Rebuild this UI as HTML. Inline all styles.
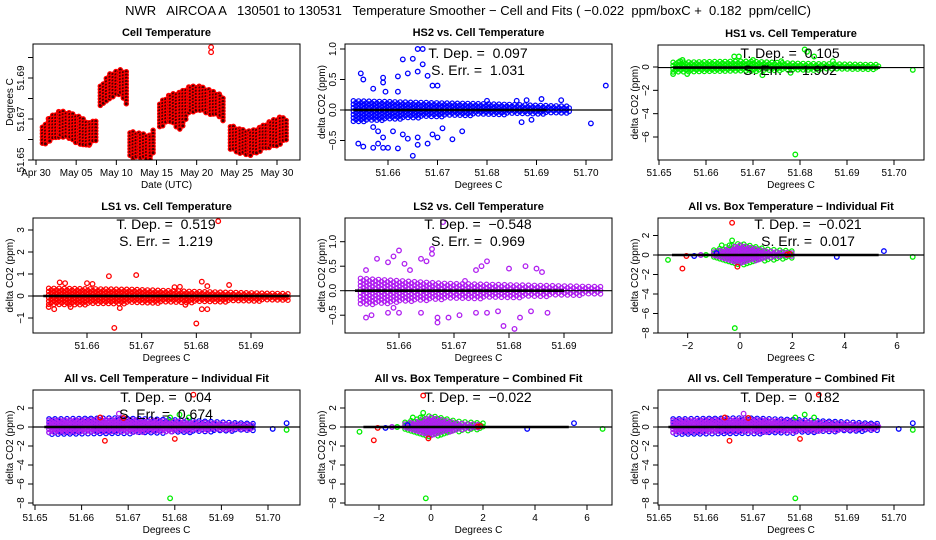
<!DOCTYPE html>
<html><head><meta charset="utf-8">
<style>
html,body{margin:0;padding:0;background:#fff;}
svg{display:block;font-family:"Liberation Sans",sans-serif;}
svg text{white-space:pre;}
</style></head>
<body>
<svg id="chart" width="936" height="540" viewBox="0 0 936 540" xmlns="http://www.w3.org/2000/svg" xml:space="preserve">
<rect x="0" y="0" width="936" height="540" fill="#fff"/>
<text x="468" y="15" text-anchor="middle" font-size="13">NWR   AIRCOA A   130501 to 130531   Temperature Smoother − Cell and Fits ( −0.022  ppm/boxC +  0.182  ppm/cellC)</text>
</svg>
<script>
// ---------- Data ----------
const tsDay = [0.8,1.7,3.0,4.2,5.5,6.7,7.6, 8.0,9.2,10.5,11.3, 11.7,13.0,14.2,14.8, 15.4,16.7,17.9,19.2,20.4,21.7,22.9,23.5, 24.2,25.4,26.7,27.9,29.2,30.4,31.2];
const tsLo  = [51.657,51.659,51.661,51.660,51.657,51.657,51.660, 51.676,51.680,51.682,51.676, 51.651,51.651,51.650,51.655, 51.666,51.668,51.664,51.673,51.674,51.672,51.671,51.668, 51.655,51.653,51.652,51.654,51.656,51.657,51.660];
const tsHi  = [51.666,51.671,51.674,51.673,51.671,51.668,51.670, 51.686,51.692,51.694,51.693, 51.664,51.663,51.662,51.666, 51.678,51.682,51.683,51.686,51.686,51.684,51.682,51.679, 51.667,51.665,51.664,51.666,51.669,51.671,51.670];
const tsSeg = [0,0,0,0,0,0,0, 1,1,1,1, 2,2,2,2, 3,3,3,3,3,3,3,3, 4,4,4,4,4,4,4];
const tsSpikeDay = [21.8];
const tsSpikeVal = [51.705];

const cellBandX = [51.653,51.668,51.680,51.697];
const hs2Lo = [-0.2,-0.12,-0.08,-0.06];
const hs2Hi = [0.15,0.12,0.1,0.06];
const hs2X = [51.6545,51.655,51.657,51.659,51.659,51.662,51.663,51.665,51.666,51.667,51.664,51.666,51.667,51.668,51.669,51.670,51.654,51.655,51.657,51.658,51.659,51.660,51.662,51.665,51.666,51.668,51.659,51.663,51.664,51.666,51.669,51.670,51.673,51.675,51.704,51.701,51.657,51.661,51.687,51.689,51.671,51.680,51.686,51.688,51.691,51.695,51.6595,51.662,51.658];
const hs2Y = [0.6,0.5,0.35,0.53,0.45,0.55,0.83,0.84,1.0,1.0,0.6,0.63,0.75,0.56,0.4,0.4,-0.55,-0.6,-0.62,-0.55,-0.62,-0.62,-0.63,-0.75,-0.57,-0.55,-0.45,-0.4,-0.47,-0.45,-0.4,-0.45,-0.48,-0.35,0.4,-0.22,-0.28,-0.35,-0.2,-0.16,-0.3,0.15,0.15,0.16,0.18,0.16,0.3,0.3,-0.35];
const hs1Lo = [-0.5,-0.4,-0.3,-0.2];
const hs1Hi = [0.4,0.5,0.3,0.2];
const hs1X = [51.655,51.6545,51.653,51.656,51.666,51.667,51.672,51.676,51.681,51.6815,51.683,51.687,51.679,51.704,51.670,51.678];
const hs1Y = [0.6,0.5,-0.6,-0.6,0.9,0.9,-0.7,0.5,1.5,1.3,0.9,0.5,-7.5,-0.25,0.6,-0.5];
const ls1Lo = [-0.45,-0.35,-0.3,-0.2];
const ls1Hi = [0.35,0.3,0.2,0.1];
const ls1X = [51.684,51.665,51.680,51.669,51.681,51.686,51.655,51.656,51.653,51.654,51.657,51.664,51.682,51.677,51.676,51.682,51.681,51.678,51.660,51.661,51.666];
const ls1Y = [3.4,-1.45,-1.25,0.95,0.65,0.5,0.62,0.58,-0.5,-0.6,-0.5,0.9,0.45,0.42,0.4,-0.6,-0.6,-0.4,0.58,0.55,-0.55];
const ls2Lo = [-0.3,-0.18,-0.15,-0.08];
const ls2Hi = [0.25,0.15,0.12,0.08];
const ls2X = [51.668,51.654,51.656,51.658,51.659,51.660,51.661,51.664,51.665,51.666,51.666,51.674,51.675,51.676,51.680,51.683,51.685,51.686,51.654,51.655,51.658,51.659,51.660,51.664,51.667,51.667,51.669,51.671,51.674,51.676,51.678,51.679,51.681,51.682,51.684,51.687,51.662,51.672];
const ls2Y = [1.4,0.42,0.65,0.58,0.7,0.82,0.55,0.65,0.6,0.75,0.85,0.42,0.5,0.6,0.45,0.5,0.45,0.38,-0.55,-0.5,-0.45,-0.35,-0.45,-0.45,-0.55,-0.65,-0.55,-0.5,-0.45,-0.45,-0.42,-0.72,-0.78,-0.55,-0.42,-0.45,0.42,0.2];
const boxBandX = [-1.0,0.0,1.0,2.0];
const boxLo = [-0.3,-0.9,-0.4,-0.1];
const boxHi = [0.3,1.0,0.4,0.2];
const boxOutX = [-0.3,-2.2,-2.05,-0.1,1.8,1.9,-2.75,-0.7,-0.3,-0.2,6.6,-0.4,5.5,3.7,-1.75,-0.9,-1.3,-1.5];
const boxOutY = [3.3,-1.4,-0.1,-1.2,0.05,0.1,-0.5,1.0,1.5,-7.5,-0.2,1.0,0.4,-0.2,-0.1,0.2,0.0,0.0];
const boxOutC = ["r","r","r","r","r","r","g","g","g","g","g","g","b","b","b","b","g","p"];
const allLo = [-0.7,-0.6,-0.5,-0.25];
const allHi = [0.7,0.8,0.6,0.2];
const allOutX = [51.684,51.665,51.680,51.669,51.679,51.681,51.704,51.704,51.701,51.668,51.679,51.683,51.664];
const allOutY = [3.4,-1.45,-1.25,0.95,-7.5,1.3,-0.3,0.4,-0.2,1.4,1.0,1.0,1.0];
const allOutC = ["r","r","r","r","g","g","g","b","b","p","g","g","r"];

// ---------- Rendering ----------
const svg = document.getElementById('chart');
const NS = 'http://www.w3.org/2000/svg';
const COL = {r:'#ff0000', g:'#00ee00', b:'#0000ff', p:'#b020f0'};
function mk(tag, attrs, parent){
  const e = document.createElementNS(NS, tag);
  for (const k in attrs) e.setAttribute(k, attrs[k]);
  (parent||svg).appendChild(e);
  return e;
}
function lin(v0,p0,v1,p1){ return v => p0 + (v - v0) * (p1 - p0) / (v1 - v0); }

function panel(cfg){
  const g = mk('g', {});
  
  
  const [L,T,R,B] = cfg.box;
  const sx = lin(cfg.xm[0],cfg.xm[1],cfg.xm[2],cfg.xm[3]);
  const sy = lin(cfg.ym[0],cfg.ym[1],cfg.ym[2],cfg.ym[3]);
  const clip = 'c' + cfg.name;
  const cp = mk('clipPath', {id: clip}, g);
  mk('rect', {x:L, y:T, width:R-L, height:B-T}, cp);
  const plot = mk('g', {'clip-path': 'url(#' + clip + ')'}, g);
  
  
  const t = mk('text', {x:(L+R)/2, y:T-8, 'text-anchor':'middle', 'font-size':11, 'font-weight':'bold'}, g);
  
  
  t.textContent = cfg.title;
  const bx = mk('rect', {x:L, y:T, width:R-L, height:B-T, fill:'none', stroke:'#000', 'stroke-width':1}, g);
  
  
  const xa = mk('g', {}, g);
  
  
  const xp = cfg.xt.map(sx);
  mk('line', {x1:xp[0], x2:xp[xp.length-1], y1:B, y2:B, stroke:'#000'}, xa);
  cfg.xt.forEach((v,i) => {
    mk('line', {x1:xp[i], x2:xp[i], y1:B, y2:B+5, stroke:'#000'}, xa);
    if (cfg.xl[i] !== '') {
      const tx = mk('text', {x:xp[i], y:B+16, 'text-anchor':'middle', 'font-size':10}, xa);
      
      
      tx.textContent = cfg.xl[i];
    }
  });
  const xt = mk('text', {x:(L+R)/2, y:B+28, 'text-anchor':'middle', 'font-size':10}, g);
  
  
  xt.textContent = cfg.xtitle;
  const ya = mk('g', {}, g);
  
  
  const yp = cfg.yt.map(sy);
  mk('line', {x1:L, x2:L, y1:yp[0], y2:yp[yp.length-1], stroke:'#000'}, ya);
  cfg.yt.forEach((v,i) => {
    mk('line', {x1:L-5, x2:L, y1:yp[i], y2:yp[i], stroke:'#000'}, ya);
    if (cfg.yl[i] !== '') {
      const ty = mk('text', {x:L-9, y:yp[i], 'text-anchor':'middle', 'font-size':10, transform:'rotate(-90 ' + (L-9) + ' ' + yp[i] + ')'}, ya);
      
      
      ty.textContent = cfg.yl[i];
    }
  });
  const yx = L - 20, yy = (T+B)/2;
  const ytl = mk('text', {x:yx, y:yy, 'text-anchor':'middle', 'font-size':10, transform:'rotate(-90 ' + yx + ' ' + yy + ')'}, g);
  
  
  ytl.textContent = cfg.ytitle;
  return {g, plot, sx, sy, L, T, R, B};
}

function circ(parent, x, y, c, name){
  const e = mk('circle', {cx:x.toFixed(1), cy:y.toFixed(1), r:2.3, fill:'none', stroke:c, 'stroke-width':1.3}, parent);
  
  
  return e;
}
function cloud(P, bx, lo, hi, c, name, step, dy){
  const grp = mk('g', {}, P.plot);
  
  
  const x0 = P.sx(bx[0]), x1 = P.sx(bx[bx.length-1]);
  let k = 0;
  for (let x = x0; x <= x1; x += step) {
    let j = 0;
    while (j < bx.length-2 && P.sx(bx[j+1]) < x) j++;
    const a = P.sx(bx[j]), b = P.sx(bx[j+1]);
    const f = Math.max(0, Math.min(1, (x - a) / (b - a)));
    const l = lo[j] + (lo[j+1]-lo[j])*f, h = hi[j] + (hi[j+1]-hi[j])*f;
    const yTop = P.sy(h), yBot = P.sy(l);
    const y0 = Math.min(yTop,yBot), y1 = Math.max(yTop,yBot);
    const off = (k % 2) * dy / 2;
    for (let y = y0 + off; y <= y1; y += dy) {
      mk('circle', {cx:x.toFixed(1), cy:y.toFixed(1), r:2.2, fill:'none', stroke:c, 'stroke-width':1.2}, grp);
    }
    k++;
  }
}
function fitLines(P, yv, tx0, tx1){
  const l1 = mk('line', {x1:P.L, x2:P.R, y1:P.sy(yv), y2:P.sy(yv), stroke:'#000', 'stroke-width':1.2}, P.plot);
  
  
  const l2 = mk('line', {x1:P.sx(tx0), x2:P.sx(tx1), y1:P.sy(yv), y2:P.sy(yv), stroke:'#000', 'stroke-width':2.6}, P.plot);
  
  
}
function annot(P, cx, y, lines){
  lines.forEach((s,i) => {
    const t = mk('text', {x:cx, y:y + i*17, 'text-anchor':'middle', 'font-size':14}, P.g);
    
    
    t.textContent = s;
  });
}

const cellXT = [51.65,51.66,51.67,51.68,51.69,51.70];
const cellXL = ['51.65','51.66','51.67','51.68','51.69','51.70'];
const bigYT = [2,0,-2,-4,-6,-8];
const bigYL = ['2','0','−2','−4','−6','−8'];
const boxXT = [-2,0,2,4,6];
const boxXL = ['−2','0','2','4','6'];

(function(){
  const P = panel({name:'cell-temperature', title:'Cell Temperature', box:[33,44,300,160],
    xm:[0,36,30,277], ym:[51.65,160,51.69,78],
    xt:[0,5,10,15,20,25,30], xl:['Apr 30','May 05','May 10','May 15','May 20','May 25','May 30'],
    yt:[51.65,51.66,51.67,51.68,51.69,51.70], yl:['51.65','','51.67','','51.69',''],
    xtitle:'Date (UTC)', ytitle:'Degrees C'});
  const grp = mk('g', {}, P.plot);
  
  
  let k = 0;
  for (let i = 0; i < tsDay.length - 1; i++) {
    if (tsSeg[i] !== tsSeg[i+1]) continue;
    const xa = P.sx(tsDay[i]), xb = P.sx(tsDay[i+1]);
    for (let x = xa; x < xb + 0.01; x += 3) {
      const f = (x - xa) / (xb - xa);
      const lo = tsLo[i] + (tsLo[i+1]-tsLo[i])*f, hi = tsHi[i] + (tsHi[i+1]-tsHi[i])*f;
      const off = (k % 2) * 1.6; k++;
      for (let y = P.sy(hi) + off; y <= P.sy(lo); y += 3.2) {
        mk('circle', {cx:x.toFixed(1), cy:y.toFixed(1), r:2.1, fill:'#400', stroke:'#ff0000', 'stroke-width':1.3}, grp);
      }
    }
  }
  tsSpikeDay.forEach((d,i) => { circ(P.plot, P.sx(d), P.sy(tsSpikeVal[i]), '#ff0000', 'spike-point'); circ(P.plot, P.sx(d), P.sy(tsSpikeVal[i])+5, '#ff0000', 'spike-point'); });
})();

(function(){
  const P = panel({name:'hs2-panel', title:'HS2 vs. Cell Temperature', box:[345,44,612,160],
    xm:[51.66,388,51.70,586], ym:[0,110,1,49],
    xt:[51.66,51.67,51.68,51.69,51.70], xl:['51.66','51.67','51.68','51.69','51.70'],
    yt:[-0.5,0,0.5,1.0], yl:['−0.5','0.0','0.5','1.0'], xtitle:'Degrees C', ytitle:'delta CO2 (ppm)'});
  cloud(P, cellBandX, hs2Lo, hs2Hi, COL.b, 'hs2-cloud', 2.6, 3.4);
  hs2X.forEach((x,i) => circ(P.plot, P.sx(x), P.sy(hs2Y[i]), COL.b, 'hs2-point'));
  fitLines(P, 0, 51.653, 51.692);
  annot(P, 478, 58, ['T. Dep. =  0.097', 'S. Err. =  1.031']);
})();

(function(){
  const P = panel({name:'hs1-panel', title:'HS1 vs. Cell Temperature', box:[658,45,924,160],
    xm:[51.65,659,51.70,894], ym:[0,67,-6,137],
    xt:cellXT, xl:cellXL, yt:[0,-2,-4,-6], yl:['0','−2','−4','−6'], xtitle:'Degrees C', ytitle:'delta CO2 (ppm)'});
  cloud(P, cellBandX, hs1Lo, hs1Hi, COL.g, 'hs1-cloud', 2.6, 3.2);
  hs1X.forEach((x,i) => circ(P.plot, P.sx(x), P.sy(hs1Y[i]), COL.g, 'hs1-point'));
  fitLines(P, -0.05, 51.653, 51.697);
  annot(P, 790, 58, ['T. Dep. =  0.105', 'S. Err. =  1.902']);
})();

(function(){
  const P = panel({name:'ls1-panel', title:'LS1 vs. Cell Temperature', box:[33,218,300,333],
    xm:[51.66,87,51.69,251], ym:[0,296,3,230],
    xt:[51.66,51.67,51.68,51.69], xl:['51.66','51.67','51.68','51.69'],
    yt:[-1,0,1,2,3], yl:['−1','0','1','2','3'], xtitle:'Degrees C', ytitle:'delta CO2 (ppm)'});
  cloud(P, cellBandX, ls1Lo, ls1Hi, COL.r, 'ls1-cloud', 2.6, 3.2);
  ls1X.forEach((x,i) => circ(P.plot, P.sx(x), P.sy(ls1Y[i]), COL.r, 'ls1-point'));
  fitLines(P, 0, 51.652, 51.697);
  annot(P, 166, 229, ['T. Dep. =  0.519', 'S. Err. =  1.219']);
})();

(function(){
  const P = panel({name:'ls2-panel', title:'LS2 vs. Cell Temperature', box:[345,218,612,333],
    xm:[51.66,399,51.69,564], ym:[0,290.7,1,241.7],
    xt:[51.66,51.67,51.68,51.69], xl:['51.66','51.67','51.68','51.69'],
    yt:[-0.5,0,0.5,1.0], yl:['−0.5','0.0','0.5','1.0'], xtitle:'Degrees C', ytitle:'delta CO2 (ppm)'});
  cloud(P, cellBandX, ls2Lo, ls2Hi, COL.p, 'ls2-cloud', 3, 3.6);
  ls2X.forEach((x,i) => circ(P.plot, P.sx(x), P.sy(ls2Y[i]), COL.p, 'ls2-point'));
  fitLines(P, 0, 51.652, 51.690);
  annot(P, 478, 229, ['T. Dep. =  −0.548', 'S. Err. =  0.969']);
})();

function allBox(name, title, box, xm, ym, ann){
  const P = panel({name, title, box, xm, ym, xt:boxXT, xl:boxXL, yt:bigYT, yl:bigYL, xtitle:'Degrees C', ytitle:'delta CO2 (ppm)'});
  cloud(P, boxBandX, boxLo.map(v=>v-0.2), boxHi.map(v=>v+0.2), COL.g, name+'-cloud-green', 3, 3.4);
  cloud(P, boxBandX, boxLo, boxHi, COL.p, name+'-cloud', 2.6, 3);
  boxOutX.forEach((x,i) => circ(P.plot, P.sx(x), P.sy(boxOutY[i]), COL[boxOutC[i]], 'outlier-point'));
  fitLines(P, 0, -2.6, 5.3);
  annot(P, ann[0], ann[1], ann[2]);
}
function allCell(name, title, box, xm, ym, ann){
  const P = panel({name, title, box, xm, ym, xt:cellXT, xl:cellXL, yt:bigYT, yl:bigYL, xtitle:'Degrees C', ytitle:'delta CO2 (ppm)'});
  cloud(P, cellBandX, allLo.map(v=>v-0.15), allHi.map(v=>v+0.15), COL.b, name+'-cloud-blue', 3, 3.4);
  cloud(P, cellBandX, allLo, allHi, COL.p, name+'-cloud', 2.6, 3);
  allOutX.forEach((x,i) => circ(P.plot, P.sx(x), P.sy(allOutY[i]), COL[allOutC[i]], 'outlier-point'));
  fitLines(P, 0, 51.652, 51.697);
  annot(P, ann[0], ann[1], ann[2]);
}
allBox('all-box-individual', 'All vs. Box Temperature − Individual Fit', [658,218,924,333], [0,740,6,897], [0,255,-8,333], [808,229,['T. Dep. =  −0.021','S. Err. =  0.017']]);
allCell('all-cell-individual', 'All vs. Cell Temperature − Individual Fit', [33,390,300,505], [51.65,35,51.70,268], [0,427,2,408], [166,402,['T. Dep. =  0.04','S. Err. =  0.674']]);
allBox('all-box-combined', 'All vs. Box Temperature − Combined Fit', [345,390,612,505], [0,431,6,587], [0,427,2,408], [478,402,['T. Dep. =  −0.022']]);
allCell('all-cell-combined', 'All vs. Cell Temperature − Combined Fit', [658,390,924,505], [51.65,659,51.70,894], [0,427,2,408], [790,402,['T. Dep. =  0.182']]);
</script>
</body></html>
